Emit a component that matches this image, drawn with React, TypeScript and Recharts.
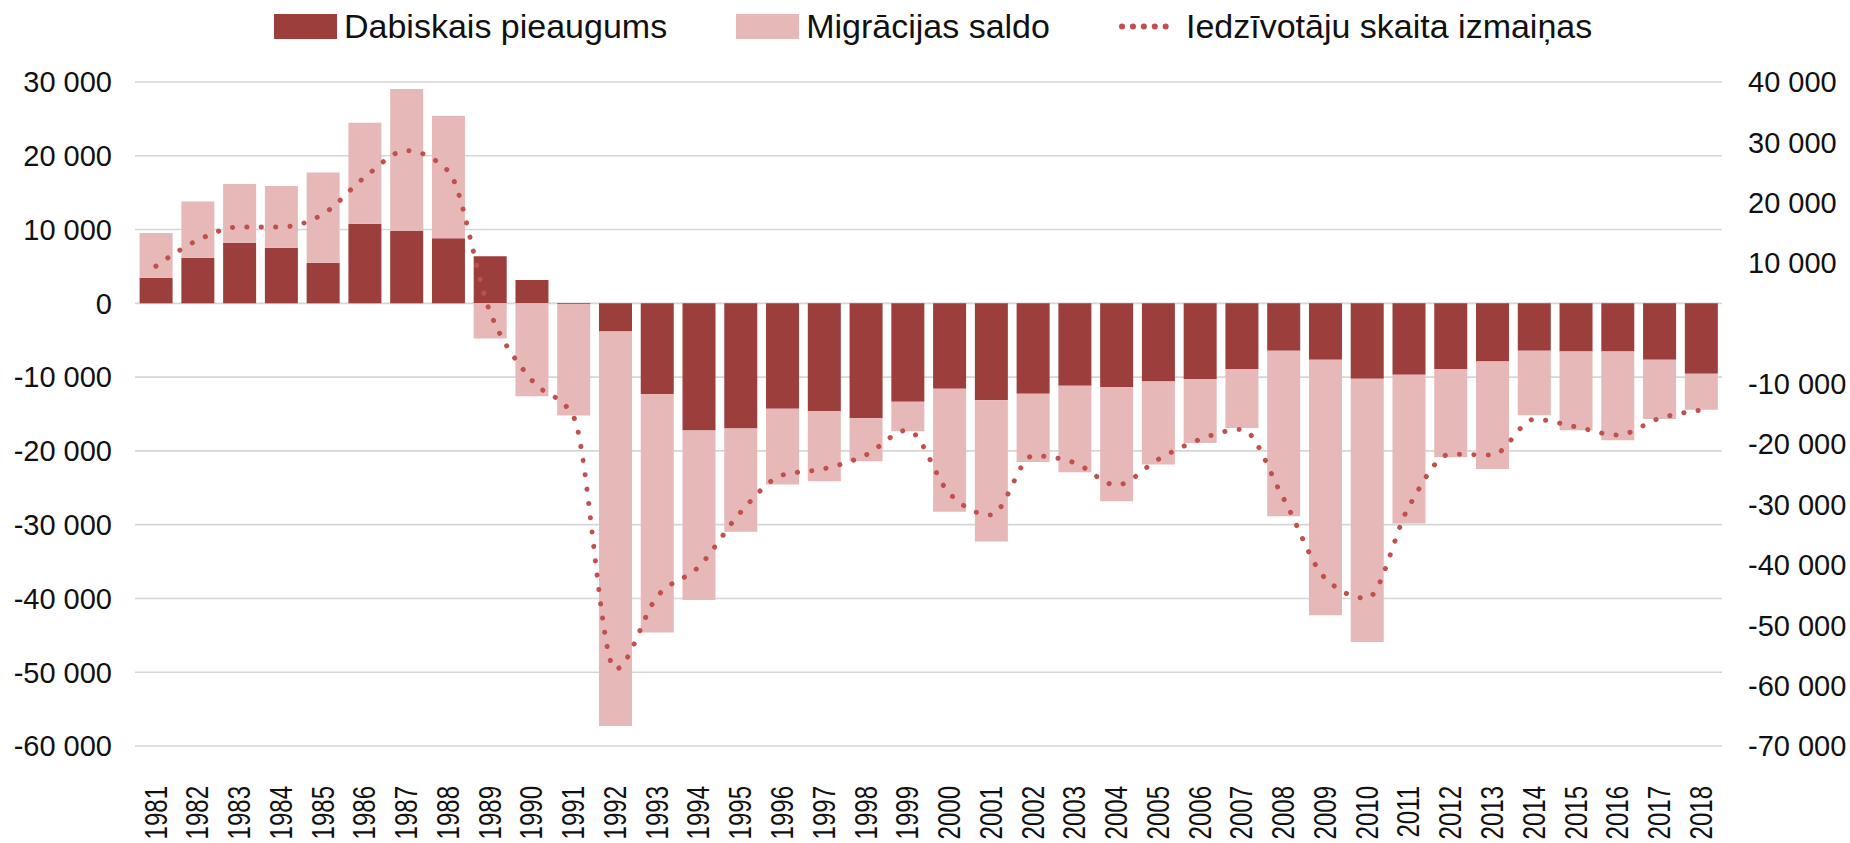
import React from 'react';
import {
  ComposedChart,
  Bar,
  Line,
  XAxis,
  YAxis,
  CartesianGrid,
} from 'recharts';

// Latvia: population change split into natural growth and net migration,
// with the overall change as a dotted line on its own (right) scale.

const years = [
  1981, 1982, 1983, 1984, 1985, 1986, 1987, 1988, 1989, 1990, 1991, 1992, 1993,
  1994, 1995, 1996, 1997, 1998, 1999, 2000, 2001, 2002, 2003, 2004, 2005, 2006,
  2007, 2008, 2009, 2010, 2011, 2012, 2013, 2014, 2015, 2016, 2017, 2018,
];

const natural = [
  3470, 6170, 8190, 7520, 5490, 10800, 9850, 8810, 6380, 3150, -100, -3820,
  -12290, -17250, -16980, -14280, -14640, -15540, -13330, -11570, -13150,
  -12250, -11160, -11340, -10580, -10260, -8910, -6430, -7650, -10220, -9680,
  -8910, -7870, -6430, -6520, -6520, -7650, -9540,
];

const migration = [
  6070, 7630, 8000, 8400, 12230, 13670, 19210, 16600, -4760, -12610, -15120,
  -53480, -32340, -22960, -13980, -10280, -9470, -5860, -4020, -16690, -19120,
  -9240, -11740, -15480, -11270, -8660, -7980, -22420, -34640, -35680, -20160,
  -11960, -14570, -8750, -10690, -12050, -8030, -4870,
];

const totalChange = [
  9490, 13790, 15990, 15990, 18100, 24220, 28640, 25260, 1920, -9390, -15460,
  -57280, -45270, -40300, -31290, -25120, -24070, -21800, -17670, -28150,
  -31740, -21920, -23080, -26770, -22520, -19200, -17550, -28970, -42220,
  -45530, -30360, -21640, -21800, -15890, -17120, -18490, -15730, -14350,
];

const leftTicks = [30000, 20000, 10000, 0, -10000, -20000, -30000, -40000, -50000, -60000];
const rightTicks = [40000, 30000, 20000, 10000, -10000, -20000, -30000, -40000, -50000, -60000, -70000];

const data = years.map((year, i) => ({
  year,
  natural: natural[i],
  migration: migration[i],
  total: totalChange[i],
}));

const DARK = '#9B3E3C';
const PINK = '#E6B8B7';
const LINE = '#C0504D';
const FONT = '"Liberation Sans", Arial, sans-serif';

const fmt = (v: number) => {
  const s = Math.abs(v).toString().replace(/\B(?=(\d{3})+(?!\d))/g, ' ');
  return (v < 0 ? '-' : '') + s;
};

function YearTick(props: any) {
  const { x, y, payload } = props;
  return (
    <text
      transform={`translate(${x},${y + 40}) rotate(-90) scale(0.8,1.05)`}
      textAnchor="end"
      dominantBaseline="central"
      fontSize={30}
      fill="#111"
      fontFamily={FONT}
    >
      {payload.value}
    </text>
  );
}

function LegendRow() {
  const item = { display: 'flex', alignItems: 'center' } as const;
  const label = { fontSize: 34, color: '#111', marginLeft: 7, whiteSpace: 'nowrap' } as const;
  return (
    <div
      style={{
        position: 'absolute',
        left: 274,
        top: 6,
        height: 40,
        display: 'flex',
        alignItems: 'center',
        fontFamily: FONT,
      }}
    >
      <div style={item}>
        <div style={{ width: 63, height: 25, background: DARK }} />
        <span style={label}>Dabiskais pieaugums</span>
      </div>
      <div style={{ ...item, marginLeft: 69 }}>
        <div style={{ width: 63, height: 25, background: PINK }} />
        <span style={label}>Migrācijas saldo</span>
      </div>
      <div style={{ ...item, marginLeft: 60 }}>
        <svg width={69} height={25}>
          <line
            x1={12}
            x2={66}
            y1={12.5}
            y2={12.5}
            stroke={LINE}
            strokeWidth={6}
            strokeDasharray="0.1 10.8"
            strokeLinecap="round"
          />
        </svg>
        <span style={label}>Iedzīvotāju skaita izmaiņas</span>
      </div>
    </div>
  );
}

export default function App() {
  const tickStyle = { fontSize: 29, fill: '#111', fontFamily: FONT };
  return (
    <div style={{ position: 'absolute', left: 0, top: 0, width: 1850, height: 843, background: '#fff' }}>
      <LegendRow />
      <ComposedChart
        width={1850}
        height={843}
        data={data}
        stackOffset="sign"
        barCategoryGap="11%"
        margin={{ top: 82, right: 0, bottom: 0, left: 0 }}
      >
        <CartesianGrid
          yAxisId="left"
          vertical={false}
          stroke="#D6D6D6"
          strokeWidth={1.6}
        />
        <XAxis
          dataKey="year"
          interval={0}
          height={97}
          tickLine={false}
          axisLine={false}
          tickSize={0}
          tickMargin={0}
          tick={<YearTick />}
        />
        <YAxis
          yAxisId="left"
          orientation="left"
          width={135}
          domain={[-60000, 30000]}
          ticks={leftTicks}
          tickFormatter={fmt}
          tickLine={false}
          axisLine={false}
          tickSize={0}
          tickMargin={23}
          tick={tickStyle}
        />
        <YAxis
          yAxisId="right"
          orientation="right"
          width={128}
          domain={[-70000, 40000]}
          ticks={rightTicks}
          tickFormatter={fmt}
          tickLine={false}
          axisLine={false}
          tickSize={0}
          tickMargin={26}
          tick={tickStyle}
        />
        <Bar yAxisId="left" dataKey="natural" stackId="a" fill={DARK} isAnimationActive={false} />
        <Bar yAxisId="left" dataKey="migration" stackId="a" fill={PINK} isAnimationActive={false} />
        <Line
          yAxisId="right"
          dataKey="total"
          type="monotone"
          stroke={LINE}
          strokeWidth={5}
          strokeDasharray="0.1 14.3"
          strokeLinecap="round"
          dot={false}
          activeDot={false}
          isAnimationActive={false}
        />
      </ComposedChart>
    </div>
  );
}
